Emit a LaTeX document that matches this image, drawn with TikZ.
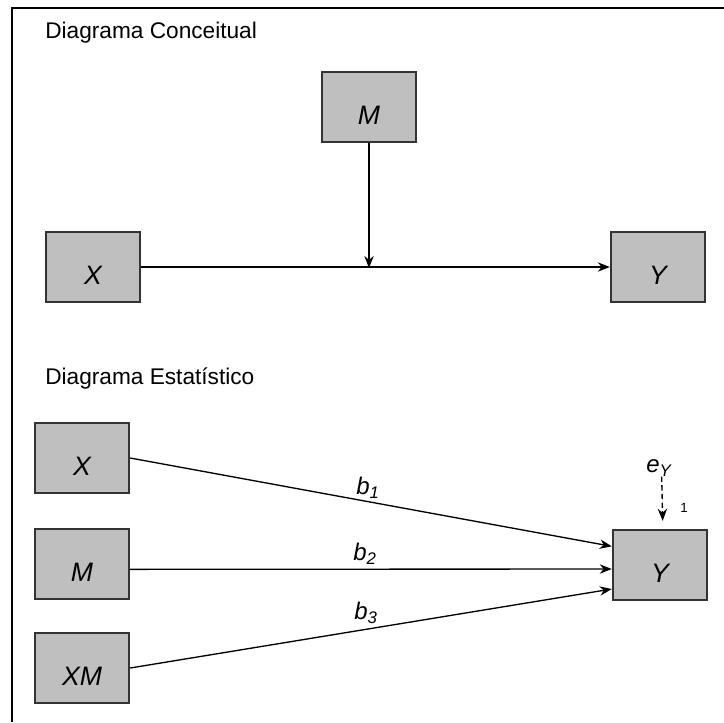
\documentclass[tikz,border=0pt]{standalone}
\usepackage{fontspec}
\setmainfont{Liberation Sans}
\usetikzlibrary{arrows.meta}

\begin{document}
\begin{tikzpicture}[x=0.75pt, y=-0.75pt,
  caixa/.style={draw=black!80, line width=1.3pt, fill=black!25, minimum width=71pt, minimum height=53pt, inner sep=0pt, text height=26pt, text depth=0pt, font=\fontsize{20}{22}\selectfont\itshape},
  titulo/.style={anchor=west, inner sep=0pt, font=\fontsize{17}{20}\selectfont},
  rot/.style={inner sep=0pt, font=\fontsize{18}{20}\selectfont\itshape},
  seta/.style={line width=1pt, -{Stealth[length=9pt, width=7pt]}}]
\useasboundingbox (0,0) rectangle (724,722);
\draw[line width=1.6pt] (12,722) -- (12,8) -- (724,8);

% diagrama conceitual
\node[titulo](t1) at (45,33) {Diagrama Conceitual};
\node[caixa](m1) at (369,107) {M};
\node[caixa](x1) at (93,267) {X};
\node[caixa](y1) at (658,267) {Y};
\coordinate (mod) at (369,268);

\draw[seta] (x1.east) -- (y1.west);
\draw[seta] (m1.south) -- (mod);

% diagrama estatistico
\node[titulo](t2) at (45,378) {Diagrama Estatístico};
\node[caixa](x2) at (82,458) {X};
\node[caixa](m2) at (82,564) {M};
\node[caixa](xm2) at (82,668) {XM};
\node[caixa](y2) at (660,565) {Y};

\draw[seta] (x2.east) -- ([yshift=14pt]y2.west);
\draw[seta] ([yshift=-4pt]m2.east) -- ([yshift=-3pt]y2.west);
\draw[seta] (xm2.east) -- ([yshift=-18pt]y2.west);

\node[rot](b1) at (368,488) {b\textsubscript{1}};
\node[rot](b2) at (365,554) {b\textsubscript{2}};
\node[rot](b3) at (366,613) {b\textsubscript{3}};

\node[rot](ey) at (659,468) {e\textsubscript{Y}};
\node[inner sep=0pt, font=\fontsize{10}{12}\selectfont](um) at (684,508) {1};
\draw[seta, dash pattern=on 4pt off 2.5pt] ([xshift=2pt]ey.south) -- ([xshift=2pt,yshift=6pt]y2.north);
\end{tikzpicture}
\end{document}
